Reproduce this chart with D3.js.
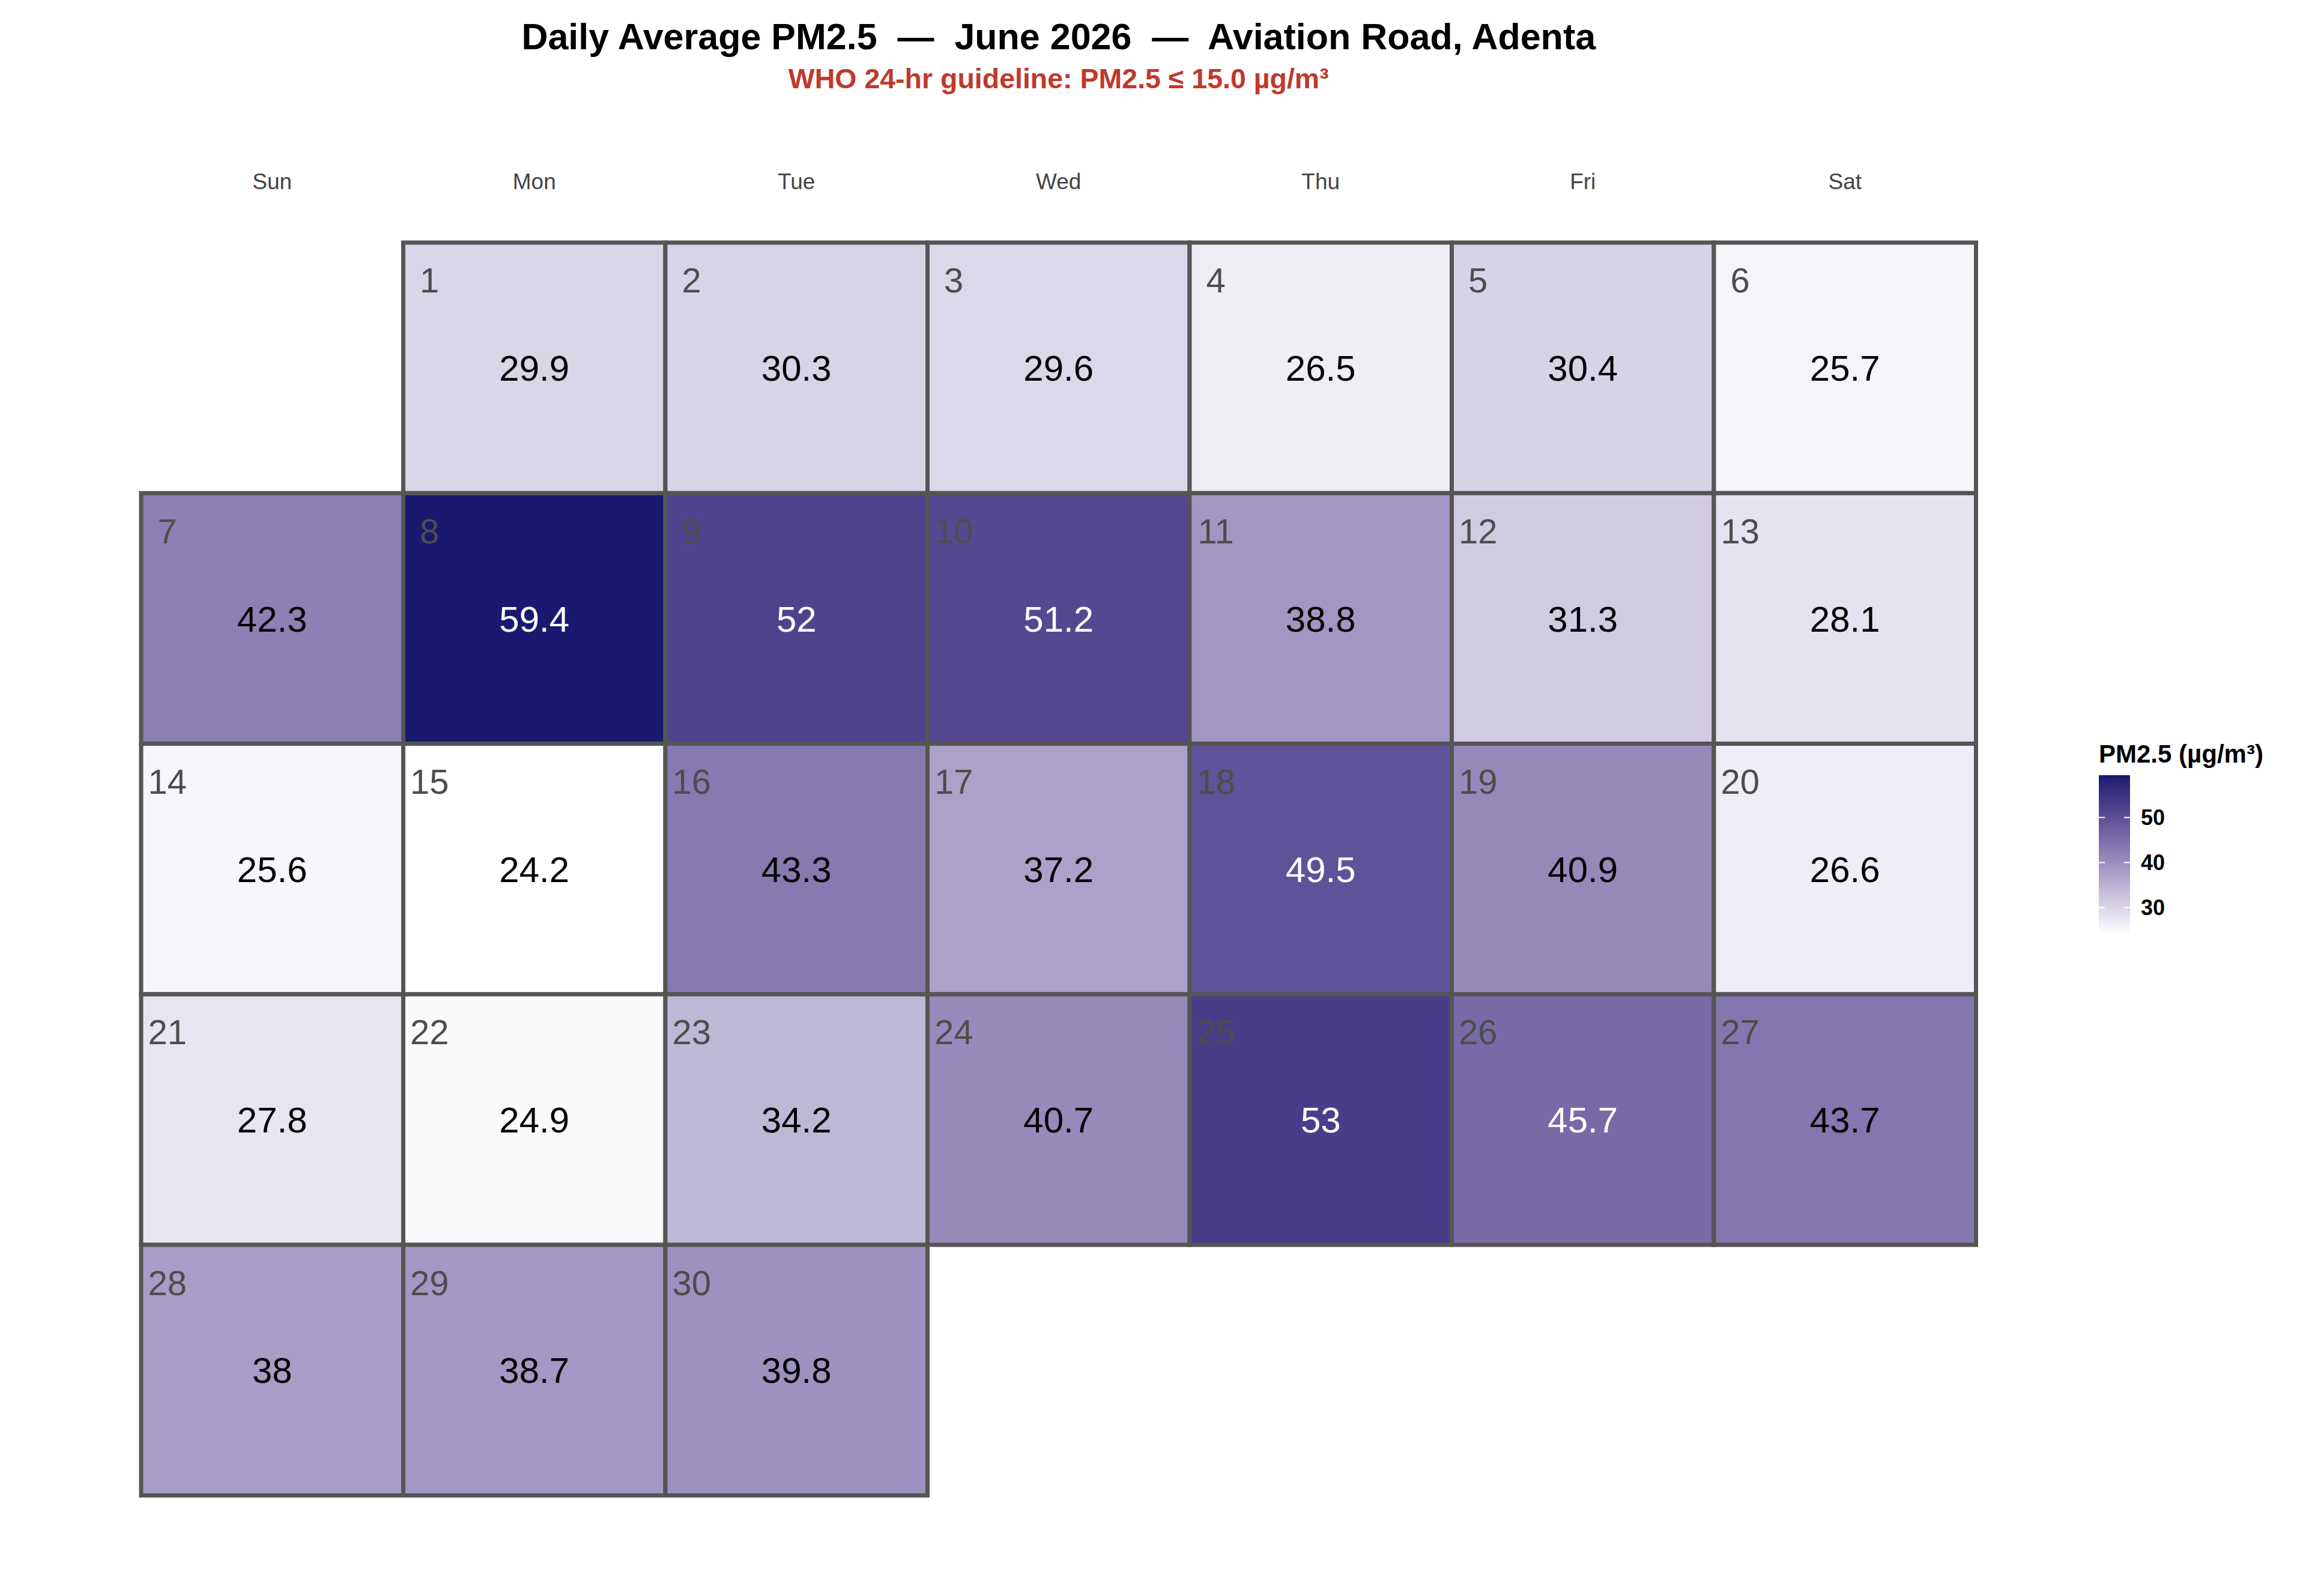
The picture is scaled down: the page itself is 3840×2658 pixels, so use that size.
<!DOCTYPE html>
<html>
<head>
<meta charset="utf-8">
<script src="https://cdn.jsdelivr.net/npm/d3@7"></script>
<style>
    body { margin: 0; background: #ffffff; }
    text { font-family: "Liberation Sans", Arial, sans-serif; }
</style>
</head>
<body>
<script>
// daily PM2.5 calendar, June 2026

var weekdays = ["Sun", "Mon", "Tue", "Wed", "Thu", "Fri", "Sat"];
var days = [1, 2, 3, 4, 5, 6, 7, 8, 9, 10, 11, 12, 13, 14, 15,
            16, 17, 18, 19, 20, 21, 22, 23, 24, 25, 26, 27, 28, 29, 30];
var pm25 = [29.9, 30.3, 29.6, 26.5, 30.4, 25.7,
            42.3, 59.4, 52, 51.2, 38.8, 31.3, 28.1,
            25.6, 24.2, 43.3, 37.2, 49.5, 40.9, 26.6,
            27.8, 24.9, 34.2, 40.7, 53, 45.7, 43.7,
            38, 38.7, 39.8];
var legendTicks = [30, 40, 50];
var firstWeekday = 1; // June 1 2026 is a Monday

var W = 3840, H = 2658;

window.onload = function(){
    var svg = d3.select("body")
        .append("svg")
        .attr("width", W)
        .attr("height", H)
        .attr("class", "container");

    svg.append("rect")
        .attr("width", W)
        .attr("height", H)
        .style("fill", "#ffffff");

    //build day records from the arrays
    var cells = days.map(function(d, i){
        var slot = d - 1 + firstWeekday;
        return { day: d, value: pm25[i], col: slot % 7, row: Math.floor(slot / 7) };
    });

    var x = d3.scaleBand()
        .domain(d3.range(7))
        .range([235, 3290.5]);

    var y = d3.scaleBand()
        .domain(d3.range(5))
        .range([404, 2490.5]);

    var color = d3.scaleLinear()
        .domain(d3.extent(pm25))
        .range(["#ffffff", "#191970"])
        .interpolate(d3.interpolateLab);

    //titles, centred over the calendar
    var midX = (x.range()[0] + x.range()[1]) / 2;
    svg.append("text")
        .attr("x", midX)
        .attr("y", 82)
        .attr("text-anchor", "middle")
        .style("font-size", "61px")
        .style("font-weight", "bold")
        .style("white-space", "pre")
        .style("fill", "#000")
        .text("Daily Average PM2.5  \u2014  June 2026  \u2014  Aviation Road, Adenta");

    svg.append("text")
        .attr("x", midX)
        .attr("y", 147)
        .attr("text-anchor", "middle")
        .style("font-size", "46.5px")
        .style("font-weight", "bold")
        .style("fill", "#c0392b")
        .text("WHO 24-hr guideline: PM2.5 \u2264 15.0 \u00b5g/m\u00b3");

    //weekday header
    svg.selectAll(".wday")
        .data(weekdays)
        .enter()
        .append("text")
        .attr("class", "wday")
        .attr("x", function(d, i){ return x(i) + x.bandwidth() / 2; })
        .attr("y", 315)
        .attr("text-anchor", "middle")
        .style("font-size", "37px")
        .style("fill", "#444444")
        .text(function(d){ return d; });

    //tiles
    svg.selectAll(".tile")
        .data(cells)
        .enter()
        .append("rect")
        .attr("class", "tile")
        .attr("x", function(d){ return x(d.col); })
        .attr("y", function(d){ return y(d.row); })
        .attr("width", x.bandwidth())
        .attr("height", y.bandwidth())
        .style("fill", function(d){ return color(d.value); })
        .style("stroke", "#555555")
        .style("stroke-width", 7);

    //day number top-left
    svg.selectAll(".dnum")
        .data(cells)
        .enter()
        .append("text")
        .attr("class", "dnum")
        .attr("x", function(d){ return x(d.col) + x.bandwidth() * 0.1; })
        .attr("y", function(d){ return y(d.row) + y.bandwidth() * 0.15; })
        .attr("dy", "0.36em")
        .attr("text-anchor", "middle")
        .style("font-size", "58px")
        .style("fill", "#4d4d4d")
        .text(function(d){ return d.day; });

    //value in the middle
    svg.selectAll(".val")
        .data(cells)
        .enter()
        .append("text")
        .attr("class", "val")
        .attr("x", function(d){ return x(d.col) + x.bandwidth() / 2; })
        .attr("y", function(d){ return y(d.row) + y.bandwidth() / 2; })
        .attr("dy", "0.36em")
        .attr("text-anchor", "middle")
        .style("font-size", "60px")
        .style("fill", function(d){ return d.value > 45 ? "#ffffff" : "#000000"; })
        .text(function(d){ return String(d.value); });

    //colour bar legend
    var barX = 3495, barW = 52;
    var ly = d3.scaleLinear()
        .domain(d3.extent(pm25))
        .range([1555, 1291]);

    var grad = svg.append("defs")
        .append("linearGradient")
        .attr("id", "pmgrad")
        .attr("x1", 0).attr("y1", 1)
        .attr("x2", 0).attr("y2", 0);
    grad.selectAll("stop")
        .data(d3.range(0, 1.0001, 0.05))
        .enter()
        .append("stop")
        .attr("offset", function(d){ return d; })
        .attr("stop-color", function(d){
            return color(ly.domain()[0] + d * (ly.domain()[1] - ly.domain()[0]));
        });

    svg.append("text")
        .attr("x", barX)
        .attr("y", 1270)
        .style("font-size", "42px")
        .style("font-weight", "bold")
        .style("fill", "#000")
        .text("PM2.5 (\u00b5g/m\u00b3)");

    svg.append("rect")
        .attr("x", barX)
        .attr("y", ly.range()[1])
        .attr("width", barW)
        .attr("height", ly.range()[0] - ly.range()[1])
        .style("fill", "url(#pmgrad)");

    var ticks = svg.selectAll(".ltick")
        .data(legendTicks)
        .enter()
        .append("g")
        .attr("class", "ltick")
        .attr("transform", function(d){ return "translate(0," + ly(d) + ")"; });
    ticks.append("line")
        .attr("x1", barX).attr("x2", barX + 10)
        .style("stroke", "#ffffff").style("stroke-width", 2);
    ticks.append("line")
        .attr("x1", barX + barW - 10).attr("x2", barX + barW)
        .style("stroke", "#ffffff").style("stroke-width", 2);
    ticks.append("text")
        .attr("x", barX + 70)
        .attr("dy", "0.36em")
        .style("font-size", "36px")
        .style("font-weight", "bold")
        .style("fill", "#000")
        .text(function(d){ return d; });
};
</script>
</body>
</html>
